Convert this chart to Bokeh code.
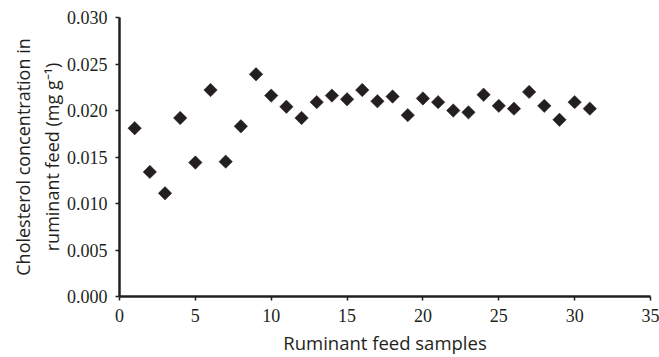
import numpy as np
from bokeh.plotting import figure
from bokeh.models import Range1d, FixedTicker, ColumnDataSource
from bokeh.embed import file_html
from bokeh.resources import INLINE

samples = list(range(1, 32))
cholesterol = [0.0181, 0.0134, 0.0111, 0.0192, 0.0144, 0.0222, 0.0145, 0.0183,
               0.0239, 0.0216, 0.0204, 0.0192, 0.0209, 0.0216, 0.0212, 0.0222,
               0.0210, 0.0215, 0.0195, 0.0213, 0.0209, 0.0200, 0.0198, 0.0217,
               0.0205, 0.0202, 0.0220, 0.0205, 0.0190, 0.0209, 0.0202]
x_ticks = [0, 5, 10, 15, 20, 25, 30, 35]
y_ticks = [0.000, 0.005, 0.010, 0.015, 0.020, 0.025, 0.030]
x_title = "Ruminant feed samples"
y_title = "Cholesterol concentration in\nruminant feed (mg g\u207b\u00b9)"

INK = "#231f20"
SERIF = "Liberation Serif"

p = figure(width=659, height=357, output_backend="svg", toolbar_location=None,
           x_range=Range1d(0, 35), y_range=Range1d(0, 0.030),
           min_border_left=119, min_border_right=9, min_border_top=17,
           min_border_bottom=59)
p.outline_line_color = None
p.grid.visible = False
p.background_fill_color = "white"
p.border_fill_color = "white"

src = ColumnDataSource(dict(x=samples, y=cholesterol))
p.scatter("x", "y", source=src, marker="square", size=9.5, angle=np.pi / 4,
          fill_color=INK, line_color=INK, line_width=0.5)

for ax in (p.xaxis[0], p.yaxis[0]):
    ax.axis_line_color = INK
    ax.axis_line_width = 2.5
    ax.major_tick_line_color = INK
    ax.major_tick_line_width = 1.5
    ax.major_tick_out = 4
    ax.major_tick_in = 0
    ax.minor_tick_line_color = None
    ax.major_label_text_font = SERIF
    ax.major_label_text_font_style = "normal"
    ax.major_label_text_font_size = "18px"
    ax.major_label_text_color = INK
    ax.axis_label_text_font = "Open Sans"
    ax.axis_label_text_font_style = "normal"
    ax.axis_label_text_color = INK
    ax.axis_label_text_line_height = 1.2

p.xaxis[0].axis_label_text_font_size = "18.5px"
p.yaxis[0].axis_label_text_font_size = "18px"
p.xaxis[0].ticker = FixedTicker(ticks=x_ticks)
p.yaxis[0].ticker = FixedTicker(ticks=y_ticks)
p.xaxis[0].major_label_overrides = {t: str(t) for t in x_ticks}
p.yaxis[0].major_label_overrides = {t: f"{t:.3f}" for t in y_ticks}
p.xaxis[0].axis_label = x_title
p.yaxis[0].axis_label = y_title
p.xaxis[0].major_label_standoff = 8
p.yaxis[0].major_label_standoff = 8
p.xaxis[0].axis_label_standoff = 5
p.yaxis[0].axis_label_standoff = 0

open("out.html", "w").write(file_html(p, INLINE))
